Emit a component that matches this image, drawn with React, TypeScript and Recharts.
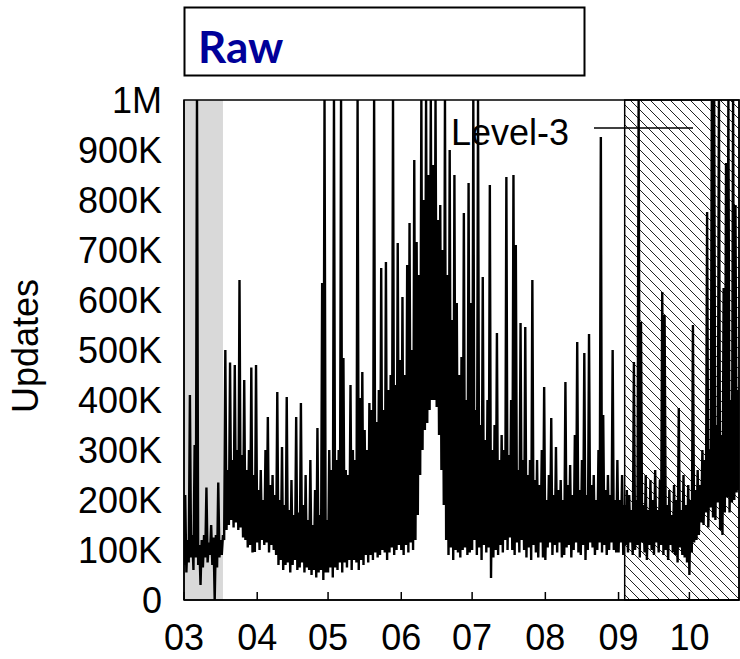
import { LineChart, Line, XAxis, YAxis, ReferenceArea } from "recharts";

// day offsets (day 0 = 1 Mar) where each month starts
const monthLabels = ["03", "04", "05", "06", "07", "08", "09", "10"];
const monthStarts = [0, 31, 61, 92, 122, 153, 184, 214];
const yTicks = [0, 100, 200, 300, 400, 500, 600, 700, 800, 900, 1000];

// daily peak readings, in thousands
const mar = [210, 120, 410, 130, 310, 1000, 110, 120, 130, 225, 115, 150, 125, 130, 235, 120, 130, 500, 260, 475, 280, 470, 300, 640, 290, 440, 260, 300, 465, 250, 470];
const apr = [220, 260, 200, 300, 366, 230, 250, 210, 416, 200, 306, 190, 406, 180, 240, 170, 366, 175, 394, 190, 250, 160, 280, 150, 220, 344, 170, 634, 1000, 160];
const may = [300, 260, 1000, 280, 300, 1000, 484, 260, 250, 430, 300, 280, 1000, 404, 456, 340, 300, 394, 380, 1000, 356, 420, 664, 380, 676, 420, 450, 1000, 430, 714, 480];
const jun = [606, 450, 670, 754, 500, 880, 716, 650, 1000, 800, 1000, 850, 1000, 870, 1000, 760, 790, 700, 1000, 650, 900, 560, 850, 594, 450, 486, 774, 400, 834, 594];
const jul = [1000, 380, 1000, 350, 646, 320, 400, 830, 300, 350, 534, 280, 330, 300, 846, 290, 400, 850, 710, 260, 554, 280, 546, 250, 280, 640, 240, 280, 230, 300, 426];
const aug = [200, 250, 364, 210, 306, 220, 240, 200, 436, 230, 270, 210, 330, 516, 220, 280, 494, 210, 532, 230, 250, 200, 300, 926, 370, 220, 250, 210, 500, 200, 280];
const sep = [200, 250, 190, 220, 210, 180, 476, 200, 1000, 556, 190, 250, 180, 240, 200, 260, 180, 240, 616, 570, 190, 220, 170, 230, 200, 384, 180, 250, 190, 230];
const oct = [200, 550, 220, 260, 230, 300, 280, 776, 300, 1000, 1000, 350, 1000, 330, 624, 874, 1000, 400, 1000, 790, 420, 446];

// daily trough readings (lower envelope), in thousands
const marLow = [70, 55, 75, 85, 60, 85, 70, 30, 65, 85, 75, 90, 70, 0, 65, 85, 90, 120, 140, 150, 160, 145, 155, 140, 145, 125, 120, 105, 110, 95, 96];
const aprLow = [115, 100, 120, 110, 115, 95, 110, 100, 90, 70, 80, 60, 70, 75, 55, 70, 80, 60, 65, 75, 55, 65, 60, 50, 60, 45, 55, 60, 40, 55];
const mayLow = [55, 65, 45, 65, 60, 75, 55, 75, 65, 80, 60, 80, 75, 60, 80, 70, 90, 75, 90, 80, 95, 85, 90, 100, 95, 80, 95, 105, 90, 100, 110];
const junLow = [100, 90, 110, 95, 115, 100, 120, 170, 250, 300, 340, 354, 380, 400, 400, 386, 330, 260, 190, 120, 90, 105, 80, 100, 95, 85, 100, 105, 90, 95];
const julLow = [100, 120, 90, 105, 80, 110, 95, 105, 44, 85, 100, 90, 110, 95, 120, 100, 125, 100, 90, 115, 95, 120, 100, 85, 105, 80, 110, 95, 85, 115, 85];
const augLow = [80, 105, 115, 90, 110, 95, 115, 85, 90, 105, 110, 85, 100, 115, 95, 90, 110, 80, 100, 115, 105, 90, 100, 115, 95, 110, 90, 100, 115, 100, 95];
const sepLow = [95, 115, 90, 110, 95, 115, 90, 100, 110, 85, 115, 95, 80, 110, 100, 90, 115, 95, 110, 90, 100, 80, 110, 95, 90, 75, 105, 90, 85, 75];
const octLow = [50, 95, 115, 120, 130, 155, 150, 175, 145, 185, 165, 160, 195, 140, 130, 175, 205, 175, 195, 200, 215, 220];

const peaks = [...mar, ...apr, ...may, ...jun, ...jul, ...aug, ...sep, ...oct];
const troughs = [...marLow, ...aprLow, ...mayLow, ...junLow, ...julLow, ...augLow, ...sepLow, ...octLow];

// two samples per day: the trough, then the peak half a day later
const data = peaks.flatMap((v, i) => [
  { day: i, updates: troughs[i] },
  { day: i + 0.5, updates: v },
]);

const FONT = "'Liberation Sans', Arial, Helvetica, sans-serif";

const fmtY = (v: number) => (v === 0 ? "0" : v === 1000 ? "1M" : `${v}K`);
const fmtX = (v: number) => monthLabels[monthStarts.indexOf(v)] ?? "";

export default function App() {
  return (
    <div style={{ position: "absolute", left: 0, top: 0, width: 740, height: 659 }}>
      <LineChart width={740} height={659} data={data} margin={{ top: 100, right: 1, bottom: 0, left: 0 }}>
        <defs>
          <pattern id="hatch" patternUnits="userSpaceOnUse" width={10} height={10}>
            <path d="M0,0 L10,10 M-2,8 L2,12 M8,-2 L12,2" stroke="#222" strokeWidth={1} />
          </pattern>
        </defs>
        <XAxis
          dataKey="day"
          type="number"
          domain={[0, 235]}
          allowDataOverflow
          ticks={monthStarts}
          interval={0}
          tickFormatter={fmtX}
          height={59}
          tickSize={-8}
          tickMargin={32}
          stroke="#000"
          strokeWidth={1.5}
          tick={{ fill: "#000", fontSize: 36, fontFamily: FONT }}
        />
        <XAxis
          xAxisId="top"
          orientation="top"
          dataKey="day"
          type="number"
          domain={[0, 235]}
          allowDataOverflow
          ticks={monthStarts}
          interval={0}
          height={0}
          tickSize={-8}
          tick={false}
          stroke="#000"
          strokeWidth={1.5}
        />
        <YAxis
          type="number"
          domain={[0, 1000]}
          ticks={yTicks}
          interval={0}
          allowDataOverflow
          tickFormatter={fmtY}
          width={184}
          tickLine={false}
          tickMargin={16}
          stroke="#000"
          strokeWidth={1.5}
          tick={{ fill: "#000", fontSize: 36, fontFamily: FONT }}
        />
        <ReferenceArea x1={0} x2={16.5} y1={0} y2={1000} fill="#d9d9d9" fillOpacity={1} stroke="none" />
        <ReferenceArea x1={186.6} x2={235} y1={0} y2={1000} fill="url(#hatch)" fillOpacity={1} stroke="#000" strokeWidth={1.5} />
        <ReferenceArea x1={0} x2={235} y1={0} y2={1000} fill="none" stroke="#000" strokeWidth={1.5} />
        <Line
          type="linear"
          dataKey="updates"
          stroke="#000"
          strokeWidth={2.4}
          dot={false}
          isAnimationActive={false}
        />
      </LineChart>
      <svg
        width={740}
        height={659}
        style={{ position: "absolute", left: 0, top: 0, pointerEvents: "none" }}
      >
        <rect x={184.5} y={7.5} width={400} height={68} fill="#fff" stroke="#000" strokeWidth={2} />
        <text x={198} y={63} fontFamily="Lato, 'Open Sans', sans-serif" fontWeight={700} fontSize={44} fill="#000099">
          Raw
        </text>
        <text
          transform="translate(38,346) rotate(-90)"
          textAnchor="middle"
          fontFamily={FONT}
          fontSize={36}
          fill="#000"
        >
          Updates
        </text>
        <text x={569} y={145} textAnchor="end" fontFamily={FONT} fontSize={36} fill="#000">
          Level-3
        </text>
        <line x1={594} x2={693} y1={128} y2={128} stroke="#000" strokeWidth={1.5} />
      </svg>
    </div>
  );
}
